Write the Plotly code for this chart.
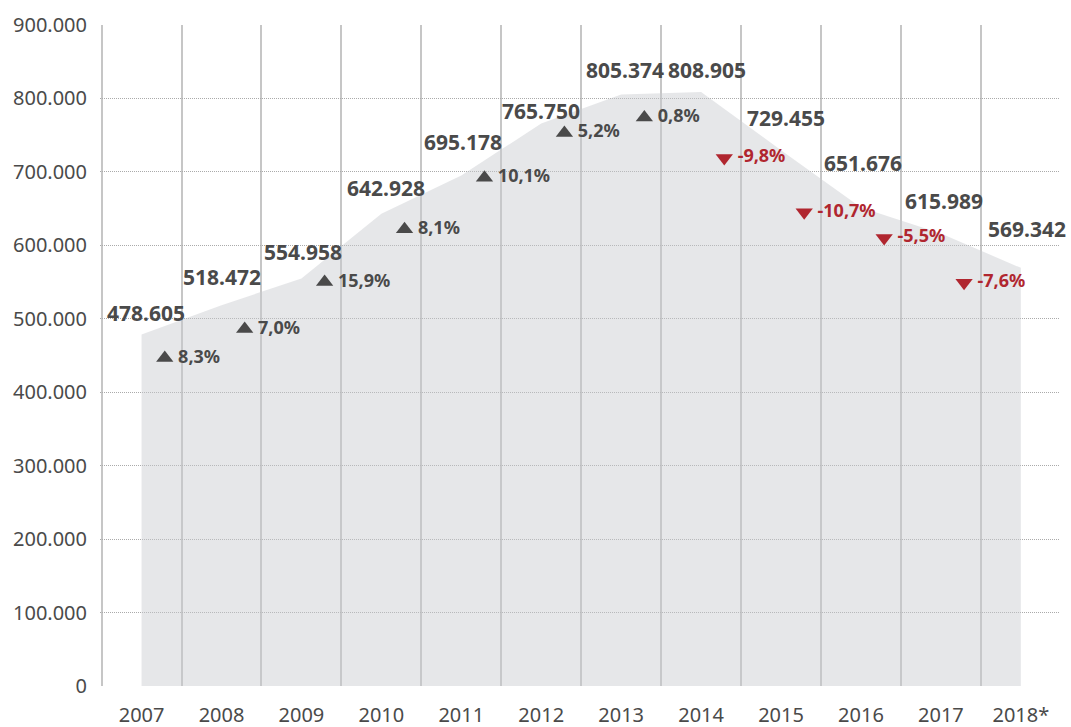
import plotly.graph_objects as go

# ---- data ----
years = [2007, 2008, 2009, 2010, 2011, 2012, 2013, 2014, 2015, 2016, 2017, 2018]
year_labels = ["2007", "2008", "2009", "2010", "2011", "2012", "2013", "2014",
               "2015", "2016", "2017", "2018*"]
values = [478605, 518472, 554958, 642928, 695178, 765750, 805374, 808905,
          729455, 651676, 615989, 569342]
changes = [8.3, 7.0, 15.9, 8.1, 10.1, 5.2, 0.8, -9.8, -10.7, -5.5, -7.6]

# ---- layout helpers (positions / styles) ----
change_marker_y = [446600, 486000, 550000, 622000, 692000, 753000, 774000,
                   719000, 645000, 610000, 549000]
change_x_offset = 0.29
label_yshift = [21, 28, 26, 26, 33, 13, 25, 22, 32, 44, 33, 39]
label_xshift = [4, 0, 2, 5, 2, 0, 4, 6, 5, 2, 3, 6]

FONT = "Noto Sans"
DARK = "#4a4a4a"
RED = "#b0262f"
GRID = "#c6c6c6"

fig = go.Figure()

fig.add_trace(go.Scatter(
    x=years, y=values, mode="lines", line=dict(width=0, color="rgba(0,0,0,0)"),
    fill="tozeroy", fillcolor="rgba(201,203,208,0.46)", hoverinfo="skip",
    showlegend=False,
))

cx = [years[i] + change_x_offset for i in range(len(changes))]
ctext = ["\u2009" + f"{c:.1f}%".replace(".", ",") for c in changes]
up = [i for i, c in enumerate(changes) if c >= 0]
dn = [i for i, c in enumerate(changes) if c < 0]

fig.add_trace(go.Scatter(
    x=[cx[i] for i in up], y=[change_marker_y[i] for i in up],
    mode="markers+text", text=[ctext[i] for i in up], textposition="middle right",
    marker=dict(symbol="triangle-up", size=15, color=DARK),
    textfont=dict(family=FONT, size=18, color=DARK, weight="bold"),
    showlegend=False, hoverinfo="skip",
))
fig.add_trace(go.Scatter(
    x=[cx[i] for i in dn], y=[change_marker_y[i] for i in dn],
    mode="markers+text", text=[ctext[i] for i in dn], textposition="middle right",
    marker=dict(symbol="triangle-down", size=15, color=RED),
    textfont=dict(family=FONT, size=18, color=RED, weight="bold"),
    showlegend=False, hoverinfo="skip",
))

for i, (yr, v) in enumerate(zip(years, values)):
    fig.add_annotation(
        x=yr, y=v, text=f"{v:,}".replace(",", "."), showarrow=False,
        xshift=label_xshift[i], yshift=label_yshift[i],
        font=dict(family=FONT, size=21, color=DARK, weight="bold"),
    )

fig.update_layout(
    width=1071, height=727,
    margin=dict(l=100, r=11, t=25, b=41, autoexpand=False),
    paper_bgcolor="white", plot_bgcolor="white",
    separators=",.",
    font=dict(family=FONT, size=20, color=DARK),
    xaxis=dict(
        range=[years[0] - 0.52, years[-1] + 0.49],
        tickmode="array", tickvals=years, ticktext=year_labels,
        showgrid=False, zeroline=False, showline=False, ticks="",
        ticklabelstandoff=15, automargin=False,
        tickfont=dict(family=FONT, size=20, color=DARK),
        minor=dict(showgrid=True, tick0=years[0] - 0.5, dtick=1,
                   gridcolor=GRID, gridwidth=1.5, ticks=""),
    ),
    yaxis=dict(
        range=[0, 900000], dtick=100000, tickformat=",d",
        showgrid=True, gridcolor="#aaaaaa", griddash="1px,1px", gridwidth=1,
        zeroline=False, showline=False, ticks="",
        ticklabelstandoff=12, automargin=False,
        tickfont=dict(family=FONT, size=20, color=DARK),
    ),
)

fig.write_html(
    "out.html",
    config={"displayModeBar": False},
    post_script="document.body.style.margin='0';document.body.style.overflow='hidden';",
)
